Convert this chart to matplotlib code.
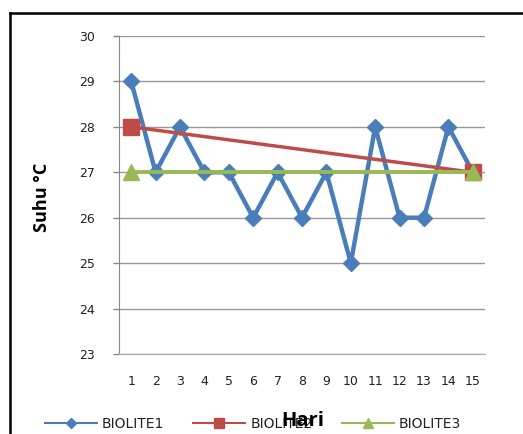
import matplotlib.pyplot as plt
import numpy as np

plt.rcParams['font.family'] = ['DejaVu Sans']

# day numbers and temperature readings
hari = list(range(1, 16))
biolite1 = [29, 27, 28, 27, 27, 26, 27, 26, 27, 25, 28, 26, 26, 28, 27]
# BIOLITE2 and BIOLITE3 only measured on the first and last day
biolite2 = [28] + [np.nan] * 13 + [27]
biolite3 = [27] + [np.nan] * 13 + [27]
yticks = [23, 24, 25, 26, 27, 28, 29, 30]

fig = plt.figure(figsize=(5.23, 4.34), dpi=100)
ax = fig.add_axes([119 / 523, 1 - 354 / 434, 366 / 523, 318 / 434])

blue, red, green = '#4A7EBB', '#BE4B48', '#98B954'

ax.plot(hari, biolite1, color=blue, lw=3.2, marker='D', ms=8,
        mec=blue, mfc=blue, label='BIOLITE1', zorder=3)

# connect across empty days like a spreadsheet chart does
m2 = ~np.isnan(biolite2)
ax.plot(np.array(hari)[m2], np.array(biolite2)[m2], color=red, lw=2.5,
        marker='s', ms=11, mec=red, mfc=red, label='BIOLITE2', zorder=4)
m3 = ~np.isnan(biolite3)
ax.plot(np.array(hari)[m3], np.array(biolite3)[m3], color=green, lw=2.8,
        marker='^', ms=12, mec=green, mfc=green, label='BIOLITE3', zorder=5)

ax.set_xlim(0.5, 15.5)
ax.set_ylim(23, 30)
ax.set_yticks(yticks)
ax.set_xticks(hari)
ax.tick_params(axis='x', length=0, pad=15, labelsize=9, colors='#222222')
ax.tick_params(axis='y', length=4.3, width=1, color='#888888', pad=13,
               labelsize=9, colors='#222222')
ax.grid(axis='y', color='#999999', lw=1)
ax.set_axisbelow(True)
for s in ['top', 'right']:
    ax.spines[s].set_visible(False)
ax.spines['left'].set_color('#888888')
ax.spines['bottom'].set_color('#aaaaaa')

fig.text(42 / 523, 1 - 197 / 434, 'Suhu °C', rotation=90, fontsize=13,
         fontweight='bold', ha='center', va='center',
         family=['Open Sans', 'DejaVu Sans'])

leg = fig.legend(loc='center', bbox_to_anchor=(253 / 523, 1 - 424 / 434),
                 ncol=3, frameon=False, fontsize=10, handlelength=3.75,
                 handletextpad=0.36, columnspacing=2.1, markerscale=0.6)
for h in leg.legend_handles:
    h.set_linewidth(1.5)
for t in leg.get_texts():
    t.set_color('#222222')

fig.text(303 / 523, 1 - 421 / 434, 'Hari', fontsize=14.5, fontweight='bold',
         ha='center', va='center', zorder=10,
         family=['Open Sans', 'DejaVu Sans'])

# outer chart frame (cut off on right and bottom)
fig.add_artist(plt.Line2D([10 / 523, 1], [1 - 13 / 434] * 2,
                          transform=fig.transFigure, color='black', lw=1.8))
fig.add_artist(plt.Line2D([10 / 523] * 2, [0, 1 - 13 / 434],
                          transform=fig.transFigure, color='black', lw=1.8))

fig.savefig('out.png', dpi=100)
